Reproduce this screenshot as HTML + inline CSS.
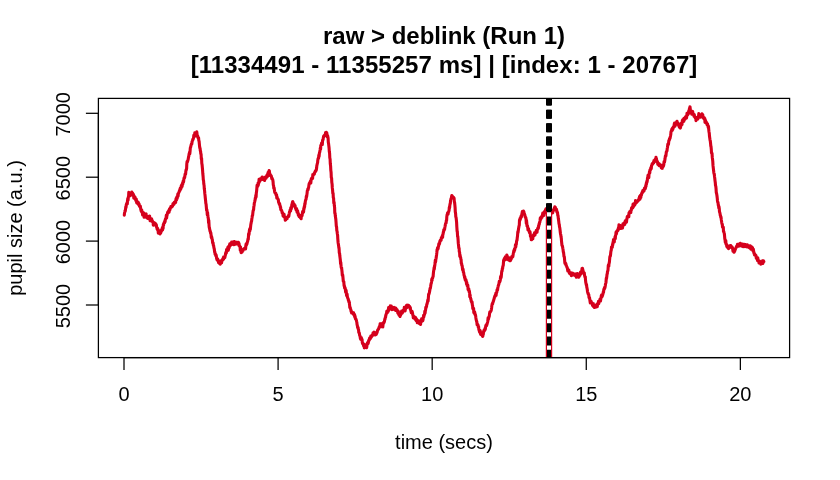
<!DOCTYPE html>
<html lang="en"><head><meta charset="utf-8"><title>raw &gt; deblink (Run 1)</title>
<style>html,body{margin:0;padding:0;background:#fff;}body{width:840px;height:480px;overflow:hidden;}</style></head>
<body>
<svg width="840" height="480" viewBox="0 0 840 480" style="display:block">
<rect width="840" height="480" fill="#fff"/>
<defs><clipPath id="pc"><rect x="98.4" y="98.4" width="691.2" height="259.2"/></clipPath></defs>
<g clip-path="url(#pc)"><polyline points="124.3,215.1 124.5,213.2 124.8,212.1 125.0,210.8 125.3,210.9 125.5,209.4 125.8,206.7 126.0,207.7 126.3,204.8 126.5,204.1 126.8,203.9 127.0,202.7 127.3,203.8 127.5,200.6 127.8,198.5 128.1,200.1 128.3,197.2 128.6,196.4 128.8,192.4 129.1,195.6 129.3,194.9 129.6,195.0 129.8,194.8 130.1,195.8 130.3,194.4 130.6,195.3 130.8,192.8 131.1,193.1 131.3,194.5 131.6,194.1 131.8,192.0 132.1,193.6 132.3,193.3 132.6,193.1 132.8,195.2 133.1,194.7 133.3,194.2 133.6,195.4 133.8,198.2 134.1,195.7 134.3,197.7 134.6,198.5 134.8,198.4 135.1,197.3 135.3,199.0 135.6,199.2 135.8,200.5 136.1,199.6 136.3,199.2 136.6,202.3 136.8,202.9 137.1,202.0 137.3,201.4 137.6,202.9 137.8,202.8 138.1,204.0 138.3,202.3 138.6,204.1 138.8,204.6 139.1,204.0 139.3,205.8 139.6,206.1 139.8,206.4 140.1,207.3 140.3,206.1 140.6,208.1 140.8,209.6 141.1,210.6 141.3,211.4 141.6,209.7 141.8,210.5 142.1,212.0 142.3,212.8 142.6,215.0 142.8,214.4 143.1,213.5 143.3,214.9 143.6,213.4 143.8,212.9 144.1,217.3 144.3,215.2 144.6,215.5 144.8,215.6 145.1,216.8 145.3,215.4 145.6,216.0 145.8,214.2 146.1,213.9 146.3,217.1 146.6,217.5 146.8,216.6 147.1,216.7 147.3,216.6 147.6,216.3 147.8,218.5 148.1,218.0 148.3,217.5 148.6,217.8 148.8,218.0 149.1,217.1 149.3,217.6 149.6,216.0 149.8,218.1 150.1,220.8 150.3,218.3 150.6,218.7 150.8,220.0 151.1,220.6 151.3,220.5 151.6,218.7 151.8,221.3 152.1,220.3 152.3,220.5 152.6,222.0 152.8,221.7 153.1,222.6 153.3,225.2 153.6,223.2 153.8,223.9 154.1,222.9 154.3,223.5 154.6,223.2 154.8,224.0 155.1,223.2 155.3,223.8 155.6,225.0 155.8,224.0 156.1,224.7 156.3,224.7 156.6,227.3 156.8,227.2 157.1,229.0 157.3,229.6 157.6,228.3 157.8,230.3 158.1,229.4 158.3,233.1 158.6,232.4 158.8,231.5 159.1,230.7 159.3,233.0 159.6,231.2 159.8,232.6 160.1,234.0 160.3,232.7 160.6,231.3 160.8,232.8 161.1,230.5 161.3,231.6 161.6,230.4 161.8,229.3 162.1,229.9 162.3,227.9 162.6,230.0 162.8,227.0 163.1,228.5 163.3,224.5 163.6,225.2 163.8,223.6 164.1,222.6 164.3,222.8 164.6,222.8 164.8,221.0 165.1,221.9 165.3,219.3 165.6,219.3 165.8,218.2 166.1,218.1 166.3,215.3 166.6,218.0 166.8,216.2 167.1,215.0 167.3,213.8 167.6,212.6 167.8,212.0 168.1,212.8 168.3,212.1 168.6,210.7 168.8,210.9 169.1,212.2 169.3,209.8 169.6,208.8 169.8,210.3 170.1,208.9 170.3,208.2 170.6,207.3 170.8,206.6 171.1,206.9 171.3,207.2 171.6,206.8 171.8,206.4 172.1,206.7 172.3,206.4 172.6,205.9 172.8,204.7 173.1,203.5 173.3,204.8 173.6,204.3 173.8,203.9 174.1,204.2 174.3,202.1 174.6,202.0 174.8,202.4 175.1,202.3 175.3,201.6 175.6,202.5 175.8,200.5 176.1,198.5 176.3,199.2 176.6,199.9 176.8,197.1 177.1,198.6 177.3,197.6 177.6,196.4 177.8,194.1 178.1,196.2 178.3,194.0 178.6,193.2 178.8,192.4 179.1,192.2 179.3,191.3 179.6,190.3 179.8,190.7 180.1,188.8 180.3,188.1 180.6,189.5 180.8,188.6 181.1,188.3 181.3,185.6 181.6,186.9 181.8,186.1 182.1,186.5 182.3,183.6 182.6,184.5 182.8,184.0 183.1,181.2 183.3,181.4 183.6,182.0 183.8,179.5 184.1,177.7 184.3,178.1 184.6,177.6 184.8,176.6 185.1,174.1 185.3,173.7 185.6,174.2 185.8,171.6 186.1,169.7 186.3,169.9 186.6,168.7 186.8,163.9 187.1,161.5 187.3,162.1 187.6,161.4 187.8,160.5 188.1,159.7 188.3,158.4 188.6,156.7 188.8,156.2 189.1,153.9 189.3,153.5 189.6,152.0 189.8,153.8 190.1,150.9 190.3,148.0 190.6,147.2 190.8,146.5 191.1,145.0 191.3,144.4 191.6,143.5 191.8,144.1 192.1,141.5 192.3,141.1 192.6,140.2 192.8,139.2 193.1,139.5 193.3,138.5 193.6,137.7 193.8,135.4 194.1,136.7 194.3,135.8 194.6,134.9 194.8,132.8 195.1,133.2 195.3,135.3 195.6,135.8 195.8,134.4 196.1,135.2 196.3,133.5 196.6,133.1 196.8,131.8 197.1,134.7 197.3,135.2 197.6,135.7 197.8,136.4 198.1,137.9 198.3,138.3 198.6,137.8 198.8,140.6 199.1,141.2 199.3,143.3 199.6,146.6 199.8,147.9 200.1,148.4 200.3,150.5 200.6,151.5 200.8,153.9 201.1,154.2 201.3,158.9 201.6,158.3 201.8,163.3 202.1,164.9 202.3,167.2 202.6,170.5 202.8,173.5 203.1,176.5 203.3,179.6 203.6,181.0 203.8,184.0 204.1,185.5 204.3,188.8 204.6,190.9 204.8,193.4 205.1,195.9 205.3,198.0 205.6,200.6 205.8,203.2 206.1,204.3 206.3,206.7 206.6,210.4 206.8,209.5 207.1,211.8 207.3,214.8 207.6,212.6 207.8,215.5 208.1,217.9 208.3,218.0 208.6,223.0 208.8,220.4 209.1,226.1 209.3,227.7 209.6,228.8 209.8,229.9 210.1,231.5 210.3,231.1 210.6,233.2 210.8,232.6 211.1,235.1 211.3,237.7 211.6,236.4 211.8,237.9 212.1,239.3 212.3,239.3 212.6,242.6 212.8,243.2 213.1,242.8 213.3,245.1 213.6,245.6 213.8,246.9 214.1,248.6 214.3,249.0 214.6,252.2 214.8,251.8 215.1,254.2 215.3,253.4 215.6,255.4 215.8,254.4 216.1,255.0 216.3,255.9 216.6,258.3 216.8,259.0 217.1,259.9 217.3,259.6 217.6,259.0 217.8,259.4 218.1,261.3 218.3,261.3 218.6,262.7 218.8,262.2 219.1,261.1 219.3,261.7 219.6,263.6 219.8,263.2 220.1,262.7 220.3,264.2 220.6,262.9 220.8,263.0 221.1,262.3 221.3,260.7 221.6,262.8 221.8,260.4 222.1,260.5 222.3,259.6 222.6,260.1 222.8,259.6 223.1,259.3 223.3,257.6 223.6,259.2 223.8,256.9 224.1,257.7 224.3,257.2 224.6,256.5 224.8,257.6 225.1,256.0 225.3,255.4 225.6,253.9 225.8,252.6 226.1,253.4 226.3,253.0 226.6,249.5 226.8,251.6 227.1,250.7 227.3,250.9 227.6,249.5 227.8,247.5 228.1,246.9 228.3,250.3 228.6,248.4 228.8,247.1 229.1,248.0 229.3,247.0 229.6,244.6 229.8,243.8 230.1,244.6 230.3,245.5 230.6,245.4 230.8,245.1 231.1,244.8 231.3,244.7 231.6,242.1 231.8,243.7 232.1,243.1 232.3,242.5 232.6,243.1 232.8,243.1 233.1,242.6 233.3,241.8 233.6,243.1 233.8,244.8 234.1,242.2 234.3,241.5 234.6,243.0 234.8,243.8 235.1,243.5 235.3,242.7 235.6,244.2 235.8,242.7 236.1,242.2 236.3,242.3 236.6,242.9 236.8,243.5 237.1,243.6 237.3,242.9 237.6,243.2 237.8,242.3 238.1,243.2 238.3,242.3 238.6,242.5 238.8,245.4 239.1,243.6 239.3,245.8 239.6,246.4 239.8,246.2 240.1,247.2 240.3,250.3 240.6,247.0 240.8,250.6 241.1,252.6 241.3,251.1 241.6,251.2 241.8,251.5 242.1,252.2 242.3,249.7 242.6,250.4 242.8,250.3 243.1,250.4 243.3,249.5 243.6,249.2 243.8,249.0 244.1,249.2 244.3,248.5 244.6,248.3 244.8,248.7 245.1,248.4 245.3,247.6 245.6,248.9 245.8,246.1 246.1,244.1 246.3,245.4 246.6,243.6 246.8,244.5 247.1,243.1 247.3,242.3 247.6,241.5 247.8,240.2 248.1,238.4 248.3,239.3 248.6,233.9 248.8,235.2 249.1,233.9 249.3,231.3 249.6,229.3 249.8,231.0 250.1,228.2 250.3,229.5 250.6,226.7 250.8,224.7 251.1,223.1 251.3,222.0 251.6,221.1 251.8,219.1 252.1,217.4 252.3,215.6 252.6,215.3 252.8,213.4 253.1,210.9 253.3,210.4 253.6,209.6 253.8,206.8 254.1,205.5 254.3,203.2 254.6,202.1 254.8,201.2 255.1,199.9 255.3,198.0 255.6,198.5 255.8,195.3 256.1,196.8 256.3,193.2 256.6,191.1 256.8,188.8 257.1,185.2 257.3,186.5 257.6,185.6 257.8,186.3 258.1,183.0 258.3,185.1 258.6,182.7 258.8,183.2 259.1,179.2 259.3,181.5 259.6,180.8 259.8,181.4 260.1,180.4 260.3,178.8 260.6,180.0 260.8,179.4 261.1,178.8 261.3,178.9 261.6,178.7 261.8,178.0 262.1,177.0 262.3,177.0 262.6,179.4 262.8,179.2 263.1,178.0 263.3,177.9 263.6,178.5 263.8,178.7 264.1,178.5 264.3,177.9 264.6,180.5 264.8,179.0 265.1,178.3 265.3,177.4 265.6,176.9 265.8,178.1 266.1,178.2 266.3,177.2 266.6,177.0 266.8,175.6 267.1,174.9 267.3,176.5 267.6,174.3 267.8,176.1 268.1,172.3 268.3,172.2 268.6,172.7 268.8,172.0 269.1,170.5 269.3,170.8 269.6,173.0 269.8,174.3 270.1,174.2 270.3,175.6 270.6,175.5 270.8,175.2 271.1,175.7 271.3,176.2 271.6,177.5 271.8,178.7 272.1,178.1 272.3,179.0 272.6,179.3 272.8,179.9 273.1,182.0 273.3,185.0 273.6,185.8 273.8,188.3 274.1,187.8 274.3,189.3 274.6,191.4 274.8,192.6 275.1,192.5 275.3,192.9 275.6,193.7 275.8,193.2 276.1,194.9 276.3,195.4 276.6,194.8 276.8,198.2 277.1,197.1 277.3,197.6 277.6,198.3 277.8,198.8 278.1,199.4 278.3,199.8 278.6,202.3 278.8,202.3 279.1,203.6 279.3,204.0 279.6,203.5 279.8,205.4 280.1,205.5 280.3,207.4 280.6,207.1 280.8,209.6 281.1,210.0 281.3,210.5 281.6,210.4 281.8,211.0 282.1,212.5 282.3,213.2 282.6,212.7 282.8,213.8 283.1,216.1 283.3,214.0 283.6,214.7 283.8,215.2 284.1,214.3 284.3,216.9 284.6,216.6 284.8,217.1 285.1,218.6 285.3,220.3 285.6,218.0 285.8,219.9 286.1,218.9 286.3,218.8 286.6,218.4 286.8,218.0 287.1,218.7 287.3,217.2 287.6,216.8 287.8,217.0 288.1,216.7 288.3,216.1 288.6,215.3 288.8,216.4 289.1,214.3 289.3,213.3 289.6,211.5 289.8,211.0 290.1,210.1 290.3,211.1 290.6,210.9 290.8,207.7 291.1,208.6 291.3,208.7 291.6,207.0 291.8,204.6 292.1,205.7 292.3,203.1 292.6,201.7 292.8,201.6 293.1,202.6 293.3,204.5 293.6,204.9 293.8,204.6 294.1,204.1 294.3,205.4 294.6,205.5 294.8,206.9 295.1,205.6 295.3,207.7 295.6,208.4 295.8,208.7 296.1,209.8 296.3,208.8 296.6,208.7 296.8,209.8 297.1,212.2 297.3,211.9 297.6,210.7 297.8,212.7 298.1,212.8 298.3,215.2 298.6,214.6 298.8,214.4 299.1,216.6 299.3,215.2 299.6,215.2 299.8,215.5 300.1,217.5 300.3,217.7 300.6,217.5 300.8,217.3 301.1,218.8 301.3,216.5 301.6,215.7 301.8,215.8 302.1,215.6 302.3,213.9 302.6,211.6 302.8,212.3 303.1,212.6 303.3,210.8 303.6,211.8 303.8,208.4 304.1,208.9 304.3,206.4 304.6,206.8 304.8,203.6 305.1,204.0 305.3,201.5 305.6,200.1 305.8,199.8 306.1,198.9 306.3,196.4 306.6,196.9 306.8,195.4 307.1,193.1 307.3,190.9 307.6,189.9 307.8,189.0 308.1,189.7 308.3,188.2 308.6,187.7 308.8,186.1 309.1,183.9 309.3,184.1 309.6,182.9 309.8,182.9 310.1,182.1 310.3,181.4 310.6,181.7 310.8,183.0 311.1,180.0 311.3,178.8 311.6,179.3 311.8,178.2 312.1,177.8 312.3,177.9 312.6,178.4 312.8,174.5 313.1,175.6 313.3,174.7 313.6,174.0 313.8,174.4 314.1,173.6 314.3,174.1 314.6,172.5 314.8,172.5 315.1,171.6 315.3,171.1 315.6,170.7 315.8,171.3 316.1,169.8 316.3,170.0 316.6,168.1 316.8,165.9 317.1,164.5 317.3,163.6 317.6,162.6 317.8,160.2 318.1,158.5 318.3,158.8 318.6,158.0 318.8,155.2 319.1,156.3 319.3,153.8 319.6,152.3 319.8,151.8 320.1,149.9 320.3,148.1 320.6,149.1 320.8,145.4 321.1,145.1 321.3,145.1 321.6,143.0 321.8,143.3 322.1,143.7 322.3,144.6 322.6,140.2 322.8,140.0 323.1,139.6 323.3,138.0 323.6,136.4 323.8,136.9 324.1,135.5 324.3,135.8 324.6,136.0 324.8,135.7 325.1,134.7 325.3,134.4 325.6,132.6 325.8,133.4 326.1,133.3 326.3,132.2 326.6,133.5 326.8,132.8 327.1,135.7 327.3,137.0 327.6,135.6 327.8,136.6 328.1,138.0 328.3,142.2 328.6,143.8 328.8,145.7 329.1,148.3 329.3,151.5 329.6,153.2 329.8,157.7 330.1,159.2 330.3,163.7 330.6,166.1 330.8,170.1 331.1,172.5 331.3,177.5 331.6,178.1 331.8,182.3 332.1,184.2 332.3,187.9 332.6,190.2 332.8,193.4 333.1,193.3 333.3,197.6 333.6,198.2 333.8,203.2 334.1,202.2 334.3,205.3 334.6,207.4 334.8,213.2 335.1,213.2 335.3,216.0 335.6,217.7 335.8,219.2 336.1,223.0 336.3,226.0 336.6,227.1 336.8,230.5 337.1,231.4 337.3,233.5 337.6,235.2 337.8,238.8 338.1,242.5 338.3,243.8 338.6,245.6 338.8,247.4 339.1,248.9 339.3,252.9 339.6,253.5 339.8,255.8 340.1,258.1 340.3,259.6 340.6,263.8 340.8,262.3 341.1,266.4 341.3,267.9 341.6,267.7 341.8,269.7 342.1,272.3 342.3,275.4 342.6,274.6 342.8,275.7 343.1,279.0 343.3,281.3 343.6,281.8 343.8,281.7 344.1,285.9 344.3,285.3 344.6,288.0 344.8,287.3 345.1,287.9 345.3,288.9 345.6,291.8 345.8,292.4 346.1,290.2 346.3,292.1 346.6,295.6 346.8,294.5 347.1,294.2 347.3,296.5 347.6,297.7 347.8,298.2 348.1,298.6 348.3,299.9 348.6,300.2 348.8,301.8 349.1,301.3 349.3,303.1 349.6,304.9 349.8,307.7 350.1,307.3 350.3,307.8 350.6,309.0 350.8,309.6 351.1,311.4 351.3,311.0 351.6,312.9 351.8,312.7 352.1,312.3 352.3,312.3 352.6,313.4 352.8,313.5 353.1,313.6 353.3,312.7 353.6,312.8 353.8,314.9 354.1,314.8 354.3,315.7 354.6,314.6 354.8,317.1 355.1,316.2 355.3,318.4 355.6,319.1 355.8,318.7 356.1,319.9 356.3,320.0 356.6,321.4 356.8,322.1 357.1,324.9 357.3,325.1 357.6,327.4 357.8,327.9 358.1,327.5 358.3,329.3 358.6,330.1 358.8,332.5 359.1,333.0 359.3,332.9 359.6,335.0 359.8,335.7 360.1,336.4 360.3,338.1 360.6,339.2 360.8,337.8 361.1,338.5 361.3,337.4 361.6,339.8 361.8,340.0 362.1,339.6 362.3,342.5 362.6,343.7 362.8,343.5 363.1,344.4 363.3,344.7 363.6,345.9 363.8,344.1 364.1,345.1 364.3,347.9 364.6,346.7 364.8,346.2 365.1,345.4 365.3,344.9 365.6,346.3 365.8,347.1 366.1,345.8 366.3,347.3 366.6,347.7 366.8,346.9 367.1,344.3 367.3,343.3 367.6,342.5 367.8,344.0 368.1,343.5 368.3,343.0 368.6,340.8 368.8,340.2 369.1,340.5 369.3,339.8 369.6,338.0 369.8,338.6 370.1,339.0 370.3,338.7 370.6,337.1 370.8,336.1 371.1,337.3 371.3,337.1 371.6,336.5 371.8,336.2 372.1,335.3 372.3,335.9 372.6,334.7 372.8,334.4 373.1,332.7 373.3,333.3 373.6,333.8 373.8,332.8 374.1,332.1 374.3,333.0 374.6,334.4 374.8,333.2 375.1,335.0 375.3,333.5 375.6,333.8 375.8,332.8 376.1,333.0 376.3,334.4 376.6,333.1 376.8,333.0 377.1,332.6 377.3,331.4 377.6,330.2 377.8,330.1 378.1,329.5 378.3,329.4 378.6,328.9 378.8,328.2 379.1,327.1 379.3,327.5 379.6,326.2 379.8,327.1 380.1,323.9 380.3,324.8 380.6,326.8 380.8,325.0 381.1,323.8 381.3,325.0 381.6,325.5 381.8,324.2 382.1,324.6 382.3,323.9 382.6,323.5 382.8,327.0 383.1,323.9 383.3,323.0 383.6,322.3 383.8,323.0 384.1,322.1 384.3,322.0 384.6,320.6 384.8,319.0 385.1,319.0 385.3,317.4 385.6,317.0 385.8,315.0 386.1,314.7 386.3,313.7 386.6,313.1 386.8,311.2 387.1,312.9 387.3,312.9 387.6,310.8 387.8,310.5 388.1,309.7 388.3,311.3 388.6,307.5 388.8,308.8 389.1,307.6 389.3,308.6 389.6,309.1 389.8,306.9 390.1,306.8 390.3,305.9 390.6,307.8 390.8,307.6 391.1,307.8 391.3,306.1 391.6,307.2 391.8,309.7 392.1,308.0 392.3,308.4 392.6,309.4 392.8,307.6 393.1,309.1 393.3,308.5 393.6,308.4 393.8,308.2 394.1,308.5 394.3,307.4 394.6,309.2 394.8,309.7 395.1,309.9 395.3,310.0 395.6,310.3 395.8,308.0 396.1,310.5 396.3,309.9 396.6,310.3 396.8,310.3 397.1,309.7 397.3,310.4 397.6,311.6 397.8,312.9 398.1,311.5 398.3,311.2 398.6,314.4 398.8,313.3 399.1,315.3 399.3,313.8 399.6,314.0 399.8,315.9 400.1,316.5 400.3,313.1 400.6,315.2 400.8,313.1 401.1,314.2 401.3,312.5 401.6,311.0 401.8,312.4 402.1,312.1 402.3,313.0 402.6,312.1 402.8,311.0 403.1,310.4 403.3,310.1 403.6,310.2 403.8,309.6 404.1,309.8 404.3,307.4 404.6,309.4 404.8,309.3 405.1,310.9 405.3,309.6 405.6,308.1 405.8,308.5 406.1,306.4 406.3,306.5 406.6,305.3 406.8,307.8 407.1,307.3 407.3,305.2 407.6,305.2 407.8,306.2 408.1,305.4 408.3,305.7 408.6,305.4 408.8,306.1 409.1,306.5 409.3,307.2 409.6,306.6 409.8,306.6 410.1,308.8 410.3,307.5 410.6,310.4 410.8,310.5 411.1,311.5 411.3,312.8 411.6,312.5 411.8,312.7 412.1,311.3 412.3,312.1 412.6,313.5 412.8,315.0 413.1,315.5 413.3,317.9 413.6,316.3 413.8,316.7 414.1,317.7 414.3,317.4 414.6,318.1 414.8,317.3 415.1,319.2 415.3,317.2 415.6,318.8 415.8,317.8 416.1,320.6 416.3,318.8 416.6,320.9 416.8,319.3 417.1,321.1 417.3,322.8 417.6,321.4 417.8,321.7 418.1,321.2 418.3,320.6 418.6,322.4 418.8,322.8 419.1,321.9 419.3,323.7 419.6,322.5 419.8,322.6 420.1,323.8 420.3,322.8 420.6,324.4 420.8,320.6 421.1,322.0 421.3,321.8 421.6,318.9 421.8,319.1 422.1,321.1 422.3,319.5 422.6,320.2 422.8,320.8 423.1,319.2 423.3,318.1 423.6,315.4 423.8,317.0 424.1,315.3 424.3,314.8 424.6,314.0 424.8,311.4 425.1,313.2 425.3,311.1 425.6,309.9 425.8,307.4 426.1,307.7 426.3,307.1 426.6,306.0 426.8,304.1 427.1,304.0 427.3,302.9 427.6,301.7 427.8,300.0 428.1,301.1 428.3,298.8 428.6,294.3 428.8,294.7 429.1,293.6 429.3,293.0 429.6,291.4 429.8,290.4 430.1,288.3 430.3,288.6 430.6,286.8 430.8,285.2 431.1,283.5 431.3,283.3 431.6,281.2 431.8,279.1 432.1,280.3 432.3,278.2 432.6,278.1 432.8,277.1 433.1,276.5 433.3,274.2 433.6,271.2 433.8,270.3 434.1,267.6 434.3,269.2 434.6,266.4 434.8,265.4 435.1,263.0 435.3,260.2 435.6,261.9 435.8,259.5 436.1,258.3 436.3,256.7 436.6,254.7 436.8,252.9 437.1,249.5 437.3,250.2 437.6,247.7 437.8,247.6 438.1,248.7 438.3,247.0 438.6,246.0 438.8,243.8 439.1,244.5 439.3,244.3 439.6,243.3 439.8,241.3 440.1,241.4 440.3,240.2 440.6,240.5 440.8,240.5 441.1,240.4 441.3,237.9 441.6,238.1 441.8,237.5 442.1,236.7 442.3,235.7 442.6,237.3 442.8,234.5 443.1,234.0 443.3,232.1 443.6,231.9 443.8,229.7 444.1,230.1 444.3,229.8 444.6,229.2 444.8,227.6 445.1,226.2 445.3,225.1 445.6,223.5 445.8,223.1 446.1,223.1 446.3,220.6 446.6,220.3 446.8,216.9 447.1,214.6 447.3,214.9 447.6,212.9 447.8,212.6 448.1,214.0 448.3,212.3 448.6,211.8 448.8,211.3 449.1,210.1 449.3,207.3 449.6,207.8 449.8,205.5 450.1,203.9 450.3,203.7 450.6,200.0 450.8,199.5 451.1,198.6 451.3,198.2 451.6,196.5 451.8,195.5 452.1,195.9 452.3,196.2 452.6,196.7 452.8,197.5 453.1,196.8 453.3,197.5 453.6,197.7 453.8,197.6 454.1,198.3 454.3,201.5 454.6,202.5 454.8,204.3 455.1,207.6 455.3,211.9 455.6,213.5 455.8,216.8 456.1,217.6 456.3,219.4 456.6,222.3 456.8,226.5 457.1,231.1 457.3,231.4 457.6,236.6 457.8,236.4 458.1,240.2 458.3,243.2 458.6,245.6 458.8,248.1 459.1,248.2 459.3,251.7 459.6,252.1 459.8,256.5 460.1,255.0 460.3,257.1 460.6,257.2 460.8,259.0 461.1,259.6 461.3,263.3 461.6,263.3 461.8,265.4 462.1,265.5 462.3,267.0 462.6,269.9 462.8,269.7 463.1,269.3 463.3,272.1 463.6,272.1 463.8,273.5 464.1,275.6 464.3,275.6 464.6,277.8 464.8,276.8 465.1,279.2 465.3,280.1 465.6,279.5 465.8,280.1 466.1,280.1 466.3,282.2 466.6,284.2 466.8,282.4 467.1,285.7 467.3,284.7 467.6,285.2 467.8,285.1 468.1,289.7 468.3,288.5 468.6,288.7 468.8,288.8 469.1,291.8 469.3,290.7 469.6,292.7 469.8,296.8 470.1,294.9 470.3,296.7 470.6,298.7 470.8,298.5 471.1,300.2 471.3,301.4 471.6,301.9 471.8,302.7 472.1,302.0 472.3,304.8 472.6,305.8 472.8,308.6 473.1,308.4 473.3,309.0 473.6,308.4 473.8,312.5 474.1,313.2 474.3,312.0 474.6,311.8 474.8,312.6 475.1,314.9 475.3,314.3 475.6,315.6 475.8,317.3 476.1,319.4 476.3,320.1 476.6,321.4 476.8,321.7 477.1,324.9 477.3,324.9 477.6,324.5 477.8,324.5 478.1,325.4 478.3,327.4 478.6,326.7 478.8,329.2 479.1,330.3 479.3,330.8 479.6,332.0 479.8,331.8 480.1,330.5 480.3,331.0 480.6,334.4 480.8,332.5 481.1,333.5 481.3,334.8 481.6,334.2 481.8,333.7 482.1,333.8 482.3,335.8 482.6,336.4 482.8,336.3 483.1,334.2 483.3,334.4 483.6,331.3 483.8,331.8 484.1,330.1 484.3,330.5 484.6,330.3 484.8,330.4 485.1,328.3 485.3,329.4 485.6,327.1 485.8,325.6 486.1,326.0 486.3,324.8 486.6,325.6 486.8,324.8 487.1,324.0 487.3,323.1 487.6,322.1 487.8,321.1 488.1,317.9 488.3,319.5 488.6,318.4 488.8,317.4 489.1,316.8 489.3,316.0 489.6,313.4 489.8,312.0 490.1,312.0 490.3,312.1 490.6,311.2 490.8,311.2 491.1,310.6 491.3,309.8 491.6,307.9 491.8,306.1 492.1,304.4 492.3,303.5 492.6,303.9 492.8,302.7 493.1,302.1 493.3,301.2 493.6,300.8 493.8,299.6 494.1,298.8 494.3,298.0 494.6,296.9 494.8,296.1 495.1,296.5 495.3,295.3 495.6,294.2 495.8,293.3 496.1,295.5 496.3,293.0 496.6,292.7 496.8,292.0 497.1,289.7 497.3,289.5 497.6,289.8 497.8,287.8 498.1,286.6 498.3,285.7 498.6,284.8 498.8,284.6 499.1,282.7 499.3,281.3 499.6,281.6 499.8,281.7 500.1,280.9 500.3,280.0 500.6,276.6 500.8,277.9 501.1,277.6 501.3,276.2 501.6,272.6 501.8,271.0 502.1,271.1 502.3,268.5 502.6,268.7 502.8,266.5 503.1,265.9 503.3,264.9 503.6,260.4 503.8,261.6 504.1,259.8 504.3,258.6 504.6,258.8 504.8,258.8 505.1,258.8 505.3,256.8 505.6,258.9 505.8,259.3 506.1,257.2 506.3,256.4 506.6,255.6 506.8,255.0 507.1,256.1 507.3,256.6 507.6,258.4 507.8,259.5 508.1,258.5 508.3,258.6 508.6,259.8 508.8,258.0 509.1,257.9 509.3,258.9 509.6,259.5 509.8,260.6 510.1,259.2 510.3,260.7 510.6,260.1 510.8,259.7 511.1,257.9 511.3,258.9 511.6,258.2 511.8,256.6 512.0,257.5 512.3,256.5 512.5,256.0 512.8,256.7 513.0,255.4 513.3,253.4 513.5,252.8 513.8,250.7 514.0,251.7 514.3,249.5 514.5,250.8 514.8,249.3 515.0,248.4 515.3,246.4 515.5,244.7 515.8,246.9 516.0,244.0 516.3,244.3 516.5,241.8 516.8,240.2 517.0,240.4 517.3,237.4 517.5,236.3 517.8,231.9 518.0,232.8 518.3,230.5 518.5,229.0 518.8,227.3 519.0,226.1 519.3,225.1 519.5,220.0 519.8,220.7 520.0,218.6 520.3,219.6 520.5,217.9 520.8,218.0 521.0,216.3 521.3,217.2 521.5,216.7 521.8,214.2 522.0,213.8 522.3,211.6 522.5,212.1 522.8,213.0 523.0,212.1 523.3,213.3 523.5,211.0 523.8,211.7 524.0,212.5 524.3,213.3 524.5,214.4 524.8,214.9 525.0,215.8 525.3,217.2 525.5,217.6 525.8,217.6 526.0,218.7 526.3,223.4 526.5,220.2 526.8,223.1 527.0,226.1 527.3,226.2 527.5,225.9 527.8,227.9 528.0,230.0 528.3,230.1 528.5,228.6 528.8,230.5 529.0,230.5 529.3,231.8 529.5,232.7 529.8,232.2 530.0,231.7 530.3,234.3 530.5,236.5 530.8,236.0 531.0,236.5 531.3,239.8 531.5,237.5 531.8,239.6 532.0,237.8 532.3,237.7 532.5,237.5 532.8,238.8 533.0,235.8 533.3,235.7 533.5,234.9 533.8,236.1 534.0,234.9 534.3,234.9 534.5,232.9 534.8,233.1 535.0,234.9 535.3,233.3 535.5,233.4 535.8,232.7 536.0,231.6 536.3,230.4 536.5,232.4 536.8,232.0 537.0,232.3 537.3,229.7 537.5,229.4 537.8,228.1 538.0,227.7 538.3,228.4 538.5,227.1 538.8,225.6 539.0,224.1 539.3,224.3 539.5,222.4 539.8,222.1 540.0,221.0 540.3,218.0 540.5,219.1 540.8,219.3 541.0,217.2 541.3,217.3 541.5,216.7 541.8,216.4 542.0,217.4 542.3,215.6 542.5,214.7 542.8,213.0 543.0,214.6 543.3,213.6 543.5,213.7 543.8,215.4 544.0,215.3 544.3,211.9 544.5,213.5 544.8,212.4 545.0,211.1 545.3,212.2 545.5,209.8 545.8,210.1 546.0,208.9 546.3,209.3 546.5,210.8 546.8,208.9 547.0,209.2 547.3,209.3 547.5,210.1 547.8,209.6 548.0,211.1 548.3,210.2 548.5,210.2 548.8,210.7 549.0,211.0 549.3,209.9 549.5,211.3 549.8,212.0 550.0,210.5 550.3,210.9 550.5,211.9 550.8,210.3 551.0,210.6 551.3,210.4 551.5,212.1 551.8,212.1 552.0,211.8 552.3,212.2 552.5,212.9 552.8,212.6 553.0,210.1 553.3,210.9 553.5,210.1 553.8,210.2 554.0,209.3 554.3,208.0 554.5,208.1 554.8,206.7 555.0,208.2 555.3,207.3 555.5,208.9 555.8,208.5 556.0,209.3 556.3,209.5 556.5,209.2 556.8,211.8 557.0,211.2 557.3,213.0 557.5,212.5 557.8,215.5 558.0,215.4 558.3,218.3 558.5,219.5 558.8,221.8 559.0,223.8 559.3,224.6 559.5,226.8 559.8,227.9 560.0,229.6 560.3,232.2 560.5,233.8 560.8,235.0 561.0,236.6 561.3,238.2 561.5,241.1 561.8,243.7 562.0,245.6 562.3,245.7 562.5,246.4 562.8,248.3 563.0,249.2 563.3,252.2 563.5,252.0 563.8,254.6 564.0,256.7 564.3,256.7 564.5,258.7 564.8,262.4 565.0,263.5 565.3,262.8 565.5,263.4 565.8,263.5 566.0,265.3 566.3,265.3 566.5,266.6 566.8,266.6 567.0,267.4 567.3,267.9 567.5,268.9 567.8,270.9 568.0,270.7 568.3,269.7 568.5,270.8 568.8,269.9 569.0,271.1 569.3,273.0 569.5,273.3 569.8,273.0 570.0,273.7 570.3,272.7 570.5,272.8 570.8,272.7 571.0,272.7 571.3,275.6 571.5,273.2 571.8,275.5 572.0,275.2 572.3,273.6 572.5,273.6 572.8,273.2 573.0,274.2 573.3,274.1 573.5,274.2 573.8,274.9 574.0,274.9 574.3,274.7 574.5,274.9 574.8,274.1 575.0,275.5 575.3,273.9 575.5,275.4 575.8,275.3 576.0,274.9 576.3,277.3 576.5,274.9 576.8,274.5 577.0,275.9 577.3,273.5 577.5,274.4 577.8,274.4 578.0,274.9 578.3,275.5 578.5,276.6 578.8,277.2 579.0,276.0 579.3,276.2 579.5,274.7 579.8,273.8 580.0,275.2 580.3,273.0 580.5,272.2 580.8,273.9 581.0,272.8 581.3,271.6 581.5,272.0 581.8,271.0 582.0,268.6 582.3,269.4 582.5,268.3 582.8,270.5 583.0,270.1 583.3,273.1 583.5,273.1 583.8,272.5 584.0,273.6 584.3,273.0 584.5,275.2 584.8,276.2 585.0,277.1 585.3,276.9 585.5,280.0 585.8,282.6 586.0,283.4 586.3,285.0 586.5,284.4 586.8,287.3 587.0,287.9 587.3,289.7 587.5,291.5 587.8,292.9 588.0,292.8 588.3,294.5 588.5,294.2 588.8,294.8 589.0,297.5 589.3,298.2 589.5,297.4 589.8,299.6 590.0,301.0 590.3,302.9 590.5,302.5 590.8,302.3 591.0,301.0 591.3,302.4 591.5,302.6 591.8,302.5 592.0,302.8 592.3,303.3 592.5,305.4 592.8,305.7 593.0,304.0 593.3,303.6 593.5,306.7 593.8,305.2 594.0,306.5 594.3,307.5 594.5,305.2 594.8,306.0 595.0,305.7 595.3,306.5 595.5,305.6 595.8,307.2 596.0,306.0 596.3,305.0 596.5,305.3 596.8,304.5 597.0,304.2 597.3,306.6 597.5,304.0 597.8,303.7 598.0,304.1 598.3,302.6 598.5,301.2 598.8,303.7 599.0,301.5 599.3,301.6 599.5,301.1 599.8,299.9 600.0,299.2 600.3,299.8 600.5,301.0 600.8,298.8 601.0,298.3 601.3,295.6 601.5,296.5 601.8,294.8 602.0,296.9 602.3,295.9 602.5,295.6 602.8,294.4 603.0,293.7 603.3,291.8 603.5,292.5 603.8,289.7 604.0,288.9 604.3,289.2 604.5,287.6 604.8,288.2 605.0,287.3 605.3,285.8 605.5,284.1 605.8,283.1 606.0,282.1 606.3,278.1 606.5,278.9 606.8,276.6 607.0,274.3 607.3,273.8 607.5,271.4 607.8,271.0 608.0,270.0 608.3,265.4 608.5,265.8 608.8,266.2 609.0,263.5 609.3,262.9 609.5,260.9 609.8,257.3 610.0,256.2 610.3,256.3 610.5,255.3 610.8,252.0 611.0,251.0 611.3,249.8 611.5,246.9 611.8,246.8 612.0,247.3 612.3,247.3 612.5,244.4 612.8,244.9 613.0,242.4 613.3,241.6 613.5,239.6 613.8,242.2 614.0,240.7 614.3,241.9 614.5,239.0 614.8,238.8 615.0,236.8 615.3,238.6 615.5,235.7 615.8,235.0 616.0,232.3 616.3,234.0 616.5,233.6 616.8,231.1 617.0,230.8 617.3,231.0 617.5,230.8 617.8,229.5 618.0,230.6 618.3,228.6 618.5,227.5 618.8,227.0 619.0,224.7 619.3,226.9 619.5,228.6 619.8,227.4 620.0,226.3 620.3,227.6 620.5,225.5 620.8,227.6 621.0,228.5 621.3,228.2 621.5,226.6 621.8,227.4 622.0,228.2 622.3,226.1 622.5,228.0 622.8,225.4 623.0,223.8 623.3,225.5 623.5,224.8 623.8,224.1 624.0,222.9 624.3,222.8 624.5,223.8 624.8,224.3 625.0,222.0 625.3,220.8 625.5,222.9 625.8,221.9 626.0,221.2 626.3,220.3 626.5,222.1 626.8,218.9 627.0,218.8 627.3,216.5 627.5,217.0 627.8,216.4 628.0,216.0 628.3,216.4 628.5,215.2 628.8,216.8 629.0,212.9 629.3,212.5 629.5,212.9 629.8,211.6 630.0,212.7 630.3,212.7 630.5,211.1 630.8,212.5 631.0,210.4 631.3,210.3 631.5,208.2 631.8,207.5 632.0,208.6 632.3,207.9 632.5,206.9 632.8,207.8 633.0,204.3 633.3,204.3 633.5,203.8 633.8,206.4 634.0,204.2 634.3,204.8 634.5,203.9 634.8,205.0 635.0,203.4 635.3,203.2 635.5,200.6 635.8,203.3 636.0,202.1 636.3,201.8 636.5,202.7 636.8,201.3 637.0,201.2 637.3,201.7 637.5,201.1 637.8,200.6 638.0,200.4 638.3,200.1 638.5,200.3 638.8,200.0 639.0,198.3 639.3,199.6 639.5,196.5 639.8,197.9 640.0,199.1 640.3,196.8 640.5,195.3 640.8,197.5 641.0,196.0 641.3,194.4 641.5,195.1 641.8,193.2 642.0,192.6 642.3,193.0 642.5,192.0 642.8,190.6 643.0,191.7 643.3,190.2 643.5,191.4 643.8,191.0 644.0,191.0 644.3,189.0 644.5,188.2 644.8,188.4 645.0,188.2 645.3,188.7 645.5,187.5 645.8,185.3 646.0,186.4 646.3,183.1 646.5,184.2 646.8,181.3 647.0,182.2 647.3,180.6 647.5,177.9 647.8,177.5 648.0,175.3 648.3,176.0 648.5,175.9 648.8,177.6 649.0,174.1 649.3,173.4 649.5,171.5 649.8,173.0 650.0,169.9 650.3,169.7 650.5,169.9 650.8,167.7 651.0,169.1 651.3,168.5 651.5,165.7 651.8,165.5 652.0,164.4 652.3,163.5 652.5,164.2 652.8,163.9 653.0,163.4 653.3,163.2 653.5,162.1 653.8,162.9 654.0,160.5 654.3,161.4 654.5,161.7 654.8,161.5 655.0,159.6 655.3,159.2 655.5,160.8 655.8,161.0 656.0,157.2 656.3,158.7 656.5,159.3 656.8,161.2 657.0,160.7 657.3,162.2 657.5,161.7 657.8,164.4 658.0,163.2 658.3,163.3 658.5,163.9 658.8,165.0 659.0,165.6 659.3,163.8 659.5,165.3 659.8,164.6 660.0,165.6 660.3,164.9 660.5,164.9 660.8,165.6 661.0,165.7 661.3,167.8 661.5,167.9 661.8,167.5 662.0,167.0 662.3,168.3 662.5,165.2 662.8,165.1 663.0,166.8 663.3,166.2 663.5,165.8 663.8,164.6 664.0,161.9 664.3,162.3 664.5,162.3 664.8,160.2 665.0,159.1 665.3,156.6 665.5,155.7 665.8,156.2 666.0,155.1 666.3,152.0 666.5,151.7 666.8,151.1 667.0,150.9 667.3,148.0 667.5,147.5 667.8,144.3 668.0,143.9 668.3,144.6 668.5,144.1 668.8,140.8 669.0,140.2 669.3,140.4 669.5,138.6 669.8,138.2 670.0,138.4 670.3,136.9 670.5,136.0 670.8,134.3 671.0,131.5 671.3,131.5 671.5,130.8 671.8,129.3 672.0,128.9 672.3,130.3 672.5,128.1 672.8,129.6 673.0,128.3 673.3,127.1 673.5,127.5 673.8,126.5 674.0,126.3 674.3,123.9 674.5,123.2 674.8,123.4 675.0,126.2 675.3,124.7 675.5,123.2 675.8,123.6 676.0,122.5 676.3,122.9 676.5,122.8 676.8,124.2 677.0,121.2 677.3,123.3 677.5,123.3 677.8,122.8 678.0,123.4 678.3,123.5 678.5,124.7 678.8,125.9 679.0,124.0 679.3,127.1 679.5,125.0 679.8,127.7 680.0,127.7 680.3,128.1 680.5,127.3 680.8,126.5 681.0,125.0 681.3,123.4 681.5,124.1 681.8,124.1 682.0,124.6 682.3,120.5 682.5,121.0 682.8,121.8 683.0,119.5 683.3,119.9 683.5,121.5 683.8,121.3 684.0,118.4 684.3,119.8 684.5,119.1 684.8,118.9 685.0,119.1 685.3,118.6 685.5,116.8 685.8,116.6 686.0,117.7 686.3,116.4 686.5,117.9 686.8,115.9 687.0,113.3 687.3,114.8 687.5,114.9 687.8,114.8 688.0,113.4 688.3,112.3 688.5,113.6 688.8,110.7 689.0,111.3 689.3,109.8 689.5,108.2 689.8,110.2 690.0,106.7 690.3,109.2 690.5,111.4 690.8,111.1 691.0,112.7 691.3,111.8 691.5,111.6 691.8,114.2 692.0,111.8 692.3,111.7 692.5,111.3 692.8,112.1 693.0,113.5 693.3,114.3 693.5,114.3 693.8,114.6 694.0,116.4 694.3,114.6 694.5,116.5 694.8,117.0 695.0,116.8 695.3,118.1 695.5,118.1 695.8,118.0 696.0,120.6 696.3,118.7 696.5,118.8 696.8,117.5 697.0,118.3 697.3,117.8 697.5,117.8 697.8,119.1 698.0,116.6 698.3,116.5 698.5,116.6 698.8,113.6 699.0,115.2 699.3,116.6 699.5,116.8 699.8,116.0 700.0,117.3 700.3,117.0 700.5,115.3 700.8,116.6 701.0,117.0 701.3,115.9 701.5,114.6 701.8,116.6 702.0,113.8 702.3,114.3 702.5,114.7 702.8,114.9 703.0,117.4 703.3,117.7 703.5,118.4 703.8,118.2 704.0,117.4 704.3,118.2 704.5,119.4 704.8,118.4 705.0,122.4 705.3,120.0 705.5,120.6 705.8,122.4 706.0,122.5 706.3,122.1 706.5,122.5 706.8,123.8 707.0,124.6 707.3,124.6 707.5,123.8 707.8,125.5 708.0,126.3 708.3,127.7 708.5,126.3 708.8,130.1 709.0,131.8 709.3,133.5 709.5,136.3 709.8,138.4 710.0,139.8 710.3,141.0 710.5,142.7 710.8,146.0 711.0,146.3 711.3,149.5 711.5,152.8 711.8,153.5 712.0,153.2 712.3,157.7 712.5,158.8 712.8,161.7 713.0,165.4 713.3,168.1 713.5,169.7 713.8,172.4 714.0,173.6 714.3,174.1 714.5,176.4 714.8,178.6 715.0,180.6 715.3,182.7 715.5,185.3 715.8,186.4 716.0,188.2 716.3,192.9 716.5,192.9 716.8,194.7 717.0,196.0 717.3,198.7 717.5,201.0 717.8,202.5 718.0,202.4 718.3,205.4 718.5,205.1 718.8,208.0 719.0,206.6 719.3,208.9 719.5,211.9 719.8,212.5 720.0,213.4 720.3,215.5 720.5,215.4 720.8,217.5 721.0,217.0 721.3,219.7 721.5,220.9 721.8,223.0 722.0,224.0 722.3,224.1 722.5,227.2 722.8,226.8 723.0,226.9 723.3,227.3 723.5,231.8 723.8,231.5 724.0,232.4 724.3,233.5 724.5,235.2 724.8,238.9 725.0,239.4 725.3,242.4 725.5,242.1 725.8,240.5 726.0,244.1 726.3,243.8 726.5,244.6 726.8,246.6 727.0,245.1 727.3,247.2 727.5,246.8 727.8,246.0 728.0,246.8 728.3,246.1 728.5,248.6 728.8,248.1 729.0,247.2 729.3,247.7 729.5,246.5 729.8,245.9 730.0,246.7 730.3,246.2 730.5,246.9 730.8,245.5 731.0,246.7 731.3,247.4 731.5,246.4 731.8,247.0 732.0,246.8 732.3,248.3 732.5,247.7 732.8,249.8 733.0,251.2 733.3,250.4 733.5,249.3 733.8,251.3 734.0,252.3 734.3,251.0 734.5,251.6 734.8,250.8 735.0,250.2 735.3,249.3 735.5,248.8 735.8,248.3 736.0,247.5 736.3,247.5 736.5,246.5 736.8,245.9 737.0,246.2 737.3,245.7 737.5,244.2 737.8,245.1 738.0,244.9 738.3,245.9 738.5,246.2 738.8,245.3 739.0,244.8 739.3,245.9 739.5,245.3 739.8,243.5 740.0,244.4 740.3,243.3 740.5,245.7 740.8,243.7 741.0,244.0 741.3,244.1 741.5,243.8 741.8,244.6 742.0,246.3 742.3,245.6 742.5,245.7 742.8,246.1 743.0,244.3 743.3,246.7 743.5,245.6 743.8,246.2 744.0,244.4 744.3,245.8 744.5,245.3 744.8,244.6 745.0,246.7 745.3,245.4 745.5,244.6 745.8,244.8 746.0,245.2 746.3,245.3 746.5,245.4 746.8,246.4 747.0,246.8 747.3,244.8 747.5,245.6 747.8,245.7 748.0,246.7 748.3,247.1 748.5,247.2 748.8,245.8 749.0,246.2 749.3,247.6 749.5,246.1 749.8,247.6 750.0,248.2 750.3,245.7 750.5,248.4 750.8,248.0 751.0,249.1 751.3,247.4 751.5,246.8 751.8,247.3 752.0,248.2 752.3,248.1 752.5,247.7 752.8,250.1 753.0,251.0 753.3,249.0 753.5,250.2 753.8,252.7 754.0,252.3 754.3,254.4 754.5,254.9 754.8,253.9 755.0,254.7 755.3,255.1 755.5,255.0 755.8,255.2 756.0,255.6 756.3,258.2 756.5,257.5 756.8,258.1 757.0,258.6 757.3,257.8 757.5,260.6 757.8,257.8 758.0,259.8 758.3,261.2 758.5,260.2 758.8,261.9 759.0,262.9 759.3,261.4 759.5,262.0 759.8,261.1 760.0,262.4 760.3,262.6 760.5,263.0 760.8,264.1 761.0,262.9 761.3,264.0 761.5,262.9 761.8,261.5 762.0,262.6 762.3,262.3 762.5,260.9 762.8,263.5 763.0,261.9 763.3,262.4 763.5,260.9 763.8,261.5" fill="none" stroke="#d5001c" stroke-width="3.1" stroke-linejoin="round" stroke-linecap="round"/>
<line x1="549.0" y1="96.5" x2="549.0" y2="211.5" stroke="#000" stroke-width="6" stroke-dasharray="9 4.333"/>
<line x1="549.0" y1="211.5" x2="549.0" y2="357.6" stroke="#d5001c" stroke-width="6.4"/>
<line x1="549.0" y1="211.5" x2="549.0" y2="357.6" stroke="#fff" stroke-width="4"/>
<line x1="549.0" y1="96.5" x2="549.0" y2="357.6" stroke="#000" stroke-width="4" stroke-dasharray="9 4.333"/>
</g>
<rect x="98.4" y="98.4" width="691.2" height="259.2" fill="none" stroke="#000" stroke-width="1.25"/>
<g stroke="#000" stroke-width="1.25" fill="none">
<line x1="124.0" y1="357.6" x2="740.36" y2="357.6"/>
<line x1="124.0" y1="357.6" x2="124.0" y2="370.1"/>
<line x1="278.09" y1="357.6" x2="278.09" y2="370.1"/>
<line x1="432.18" y1="357.6" x2="432.18" y2="370.1"/>
<line x1="586.27" y1="357.6" x2="586.27" y2="370.1"/>
<line x1="740.36" y1="357.6" x2="740.36" y2="370.1"/>
<line x1="98.4" y1="305.0" x2="98.4" y2="113.3"/>
<line x1="85.9" y1="113.3" x2="98.4" y2="113.3"/>
<line x1="85.9" y1="177.2" x2="98.4" y2="177.2"/>
<line x1="85.9" y1="241.1" x2="98.4" y2="241.1"/>
<line x1="85.9" y1="305.0" x2="98.4" y2="305.0"/>
</g>
<g font-family="'Liberation Sans', Arial, Helvetica, sans-serif" fill="#000" text-anchor="middle" opacity="0.999">
<text x="124.0" y="400.8" font-size="20">0</text>
<text x="278.09" y="400.8" font-size="20">5</text>
<text x="432.18" y="400.8" font-size="20">10</text>
<text x="586.27" y="400.8" font-size="20">15</text>
<text x="740.36" y="400.8" font-size="20">20</text>
<text transform="translate(69.6,114.3) rotate(-90)" font-size="20">7000</text>
<text transform="translate(69.6,178.2) rotate(-90)" font-size="20">6500</text>
<text transform="translate(69.6,242.1) rotate(-90)" font-size="20">6000</text>
<text transform="translate(69.6,306.0) rotate(-90)" font-size="20">5500</text>
<text x="444" y="448.8" font-size="20">time (secs)</text>
<text transform="translate(21.6,228) rotate(-90)" font-size="20">pupil size (a.u.)</text>
<text x="444" y="44" font-size="24" font-weight="bold">raw &gt; deblink (Run 1)</text>
<text x="444" y="73" font-size="24" letter-spacing="0.052" font-weight="bold">[11334491 - 11355257 ms] | [index: 1 - 20767]</text>
</g>
</svg>
</body></html>
